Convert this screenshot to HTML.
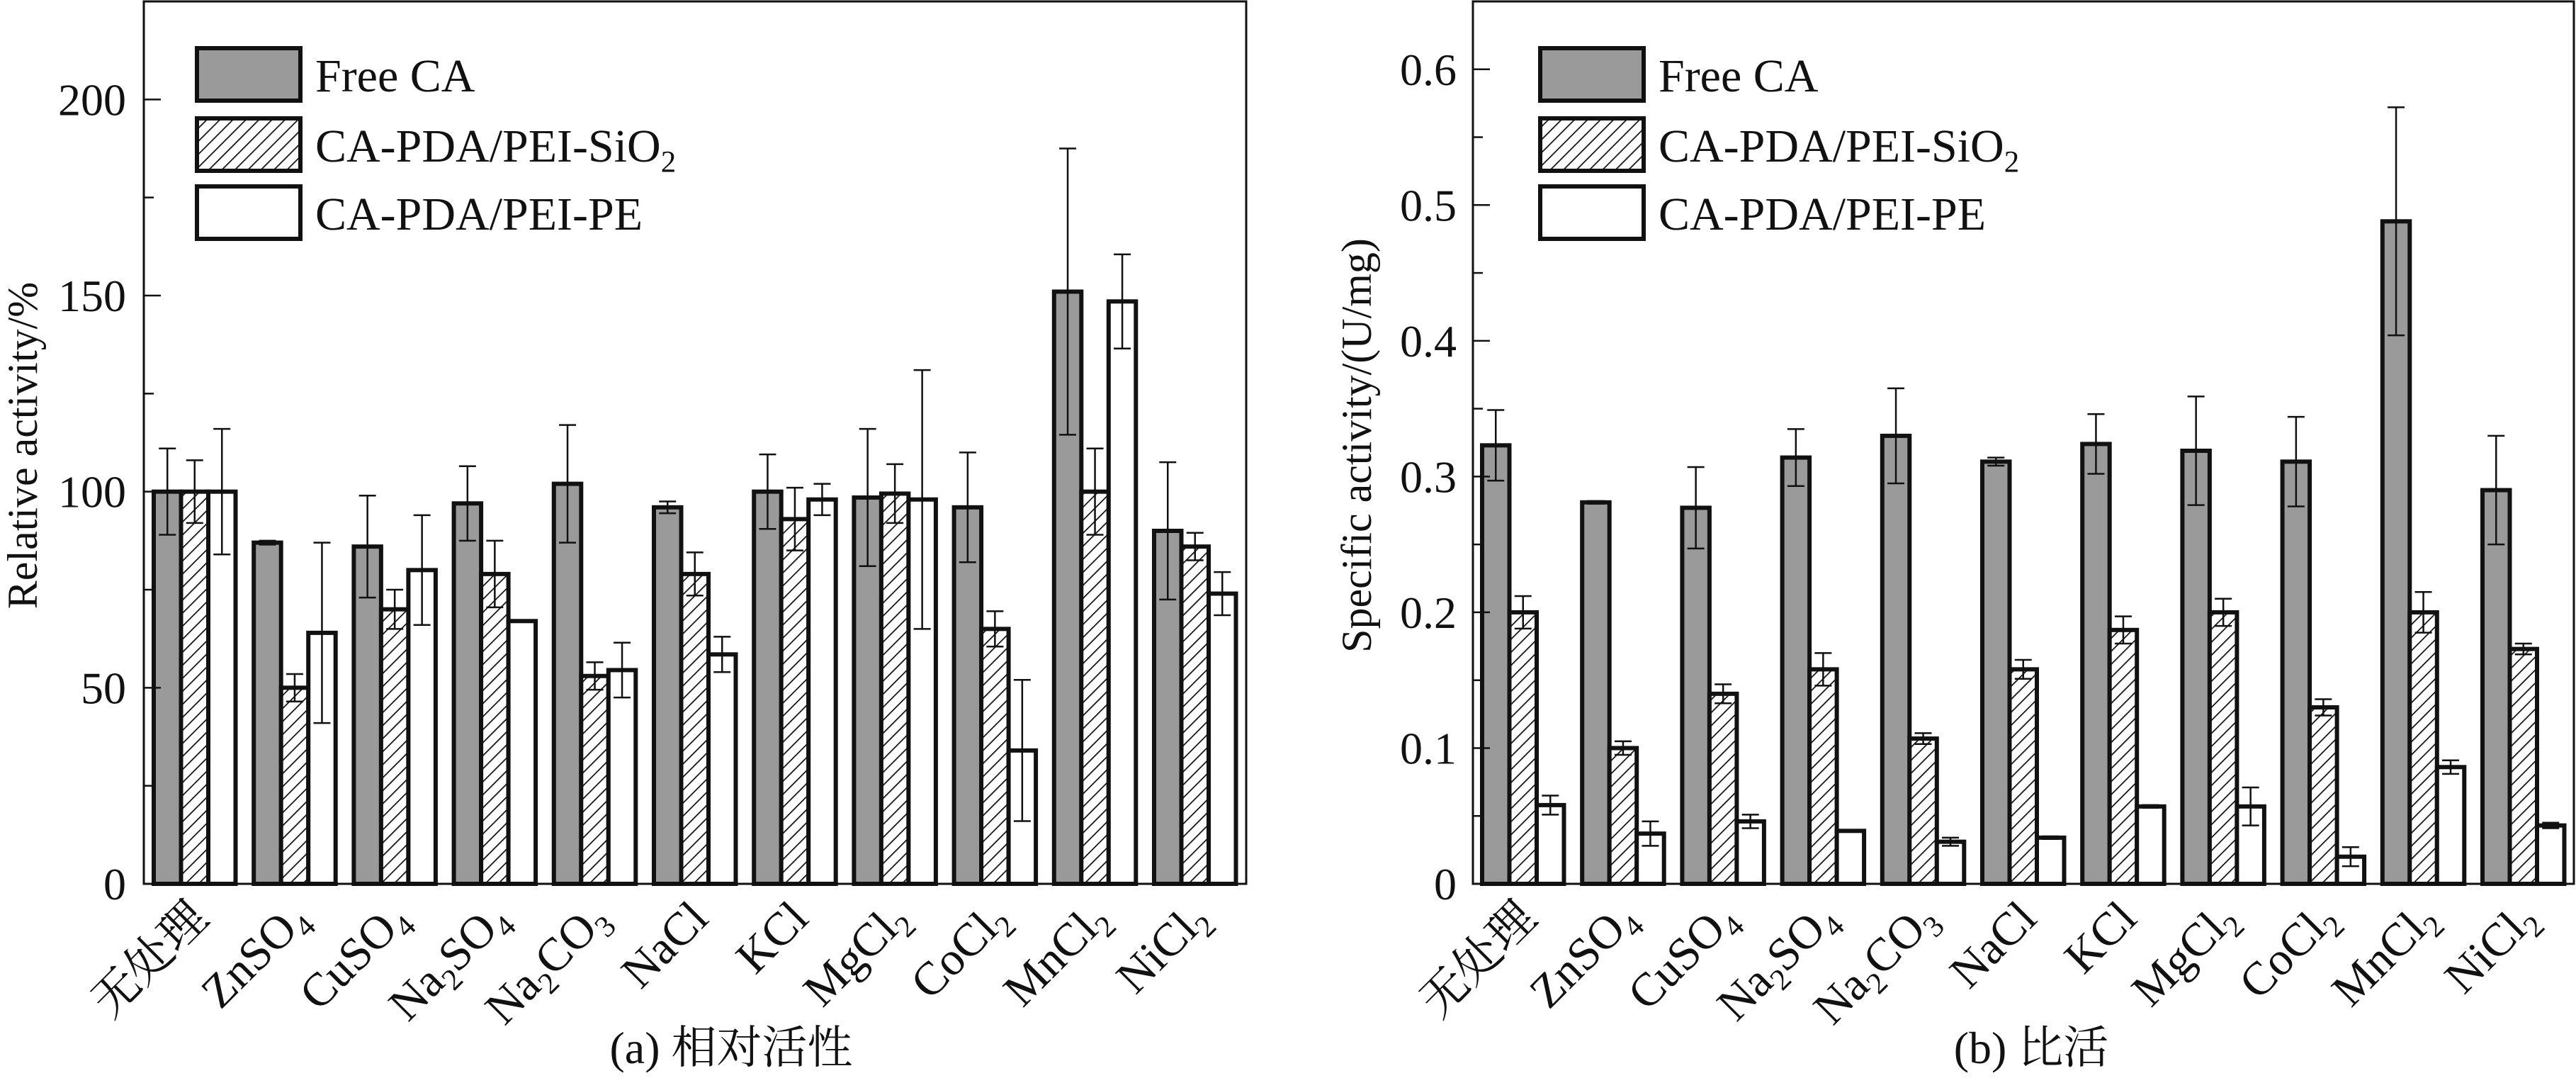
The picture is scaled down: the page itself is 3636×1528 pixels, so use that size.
<!DOCTYPE html>
<html><head><meta charset="utf-8"><style>
html,body{margin:0;padding:0;background:#fff;}
svg{display:block;font-family:"Liberation Serif","Noto Serif CJK SC","Noto Sans CJK SC",serif;}
</style></head><body>
<svg id="fig" width="3636" height="1528" viewBox="0 0 3636 1528" xmlns="http://www.w3.org/2000/svg">
<defs>
<pattern id="hatch" patternUnits="userSpaceOnUse" width="13" height="13" patternTransform="rotate(45)">
<rect width="13" height="13" fill="#fff"/><line x1="0" y1="0" x2="0" y2="13" stroke="#111" stroke-width="3.5"/>
</pattern>
</defs>
<g id="chartA"></g>
<g id="chartB"></g>
</svg>
<script>
const categories = ["无处理","ZnSO|4","CuSO|4","Na|2|SO|4","Na|2|CO|3","NaCl","KCl","MgCl|2","CoCl|2","MnCl|2","NiCl|2"];
const seriesNames = ["Free CA","CA-PDA/PEI-SiO|2","CA-PDA/PEI-PE"];
const relFree = [100,87,86,97,102,96,100,98.5,96,151,90];
const relFreeErr = [11,0.5,13,9.5,15,1.5,9.5,17.5,14,36.5,17.5];
const relSiO2 = [100,50,70,79,53,79,93,99.5,65,100,86];
const relSiO2Err = [8,3.5,5,8.5,3.5,5.5,8,7.5,4.5,11,3.5];
const relPE = [100,64,80,67,54.5,58.5,98,98,34,148.5,74];
const relPEErr = [16,23,14,0,7,4.5,4,33,18,12,5.5];
const relTicks = [0,50,100,150,200];
const spFree = [0.323,0.281,0.277,0.314,0.330,0.311,0.324,0.319,0.311,0.488,0.290];
const spFreeErr = [0.026,0.001,0.030,0.021,0.035,0.003,0.022,0.040,0.033,0.084,0.040];
const spSiO2 = [0.200,0.100,0.140,0.158,0.107,0.158,0.187,0.200,0.130,0.200,0.173];
const spSiO2Err = [0.012,0.005,0.007,0.012,0.004,0.007,0.010,0.010,0.006,0.015,0.004];
const spPE = [0.058,0.037,0.046,0.039,0.031,0.034,0.057,0.057,0.020,0.086,0.043];
const spPEErr = [0.007,0.009,0.005,0.000,0.003,0.001,0.001,0.014,0.007,0.005,0.002];
const spTicks = [0,0.1,0.2,0.3,0.4,0.5,0.6];
const spTickLabels = ["0","0.1","0.2","0.3","0.4","0.5","0.6"];

const NS="http://www.w3.org/2000/svg";
function mk(parent,tag,attrs){const e=document.createElementNS(NS,tag);for(const k in attrs)e.setAttribute(k,attrs[k]);parent.appendChild(e);return e;}
function richText(el,str,size){
  const parts=str.split("|");
  parts.forEach((p,i)=>{const t=document.createElementNS(NS,"tspan");
    if(i%2===1){t.setAttribute("font-size",size*0.65);t.setAttribute("dy",size*0.22);}
    else if(i>0){t.setAttribute("dy",-size*0.22);}
    t.textContent=p;el.appendChild(t);});
}
function drawChart(g,cfg){
  const {x0,x1,y0,y1,ymax,firstBar,ticks,tickLabels,minorStep,series,errs,title,caption,legendX,capX,titleX,labelRight}=cfg;
  const ys=v=>y0-(v/ymax)*(y0-y1);
  const step=141.2,bw=38.5;
  const fills=["#9a9a9a","url(#hatch)","#ffffff"];
  const sNames=["free-ca","sio2","pe"];
  series.forEach((arr,s)=>{arr.forEach((v,i)=>{
    const x=firstBar+step*i+bw*s;
    const r=mk(g,"rect",{x:x,y:ys(v),width:bw,height:y0-ys(v),fill:fills[s],stroke:"#111","stroke-width":6});
    
    
    const e=errs[s][i],cx=x+bw/2;
    const eg=mk(g,"g",{stroke:"#111","stroke-width":2.5});
    
    
    mk(eg,"line",{x1:cx,x2:cx,y1:ys(v+e),y2:ys(Math.max(0,v-e))});
    mk(eg,"line",{x1:cx-12,x2:cx+12,y1:ys(v+e),y2:ys(v+e)});
    mk(eg,"line",{x1:cx-12,x2:cx+12,y1:ys(Math.max(0,v-e)),y2:ys(Math.max(0,v-e))});
  });});
  const fr=mk(g,"rect",{x:x0,y:y1,width:x1-x0,height:y0-y1,fill:"none",stroke:"#111","stroke-width":3});
  
  
  for(let v=0;v<=ymax+1e-9;v+=minorStep){
    const major=ticks.some(t=>Math.abs(t-v)<1e-9);
    mk(g,"line",{x1:x0,x2:x0+(major?24:14),y1:ys(v),y2:ys(v),stroke:"#111","stroke-width":2.5});
  }
  ticks.forEach((t,i)=>{const tx=mk(g,"text",{x:labelRight,y:ys(t)+22,"text-anchor":"end","font-size":64,fill:"#111"});
    tx.textContent=tickLabels[i];
    
    });
  const yt=mk(g,"text",{x:0,y:0,"text-anchor":"middle","font-size":60,fill:"#111",transform:`translate(${titleX},${(y0+y1)/2+4}) rotate(-90)`});
  yt.textContent=title;
  
  
  categories.forEach((c,i)=>{
    const cx=firstBar+step*i+bw*1.5+22;
    const t=mk(g,"text",{x:0,y:0,"text-anchor":"end","font-size":66,fill:"#111",transform:`translate(${cx},${y0+52}) rotate(-45)`});
    richText(t,c,66);
    
    
  });
  const ly=[68,167,263];
  seriesNames.forEach((n,s)=>{
    const r=mk(g,"rect",{x:legendX,y:ly[s],width:146,height:74,fill:fills[s],stroke:"#111","stroke-width":6});
    
    
    const t=mk(g,"text",{x:legendX+167,y:ly[s]+61,"font-size":66,fill:"#111"});
    richText(t,n,66);
    
    
  });
  const cp=mk(g,"text",{x:capX,y:1500,"text-anchor":"middle","font-size":64,fill:"#111"});
  cp.textContent=caption;
  
  
}
drawChart(document.getElementById("chartA"),{x0:203,x1:1759,y0:1247,y1:2,ymax:225,firstBar:217,
  ticks:relTicks,tickLabels:relTicks.map(String),minorStep:25,
  series:[relFree,relSiO2,relPE],errs:[relFreeErr,relSiO2Err,relPEErr],
  title:"Relative activity/%",caption:"(a) 相对活性",legendX:278,capX:1032,titleX:52,labelRight:178});
drawChart(document.getElementById("chartB"),{x0:2079,x1:3633,y0:1247,y1:2,ymax:0.65,firstBar:2092,
  ticks:spTicks,tickLabels:spTickLabels,minorStep:0.05,
  series:[spFree,spSiO2,spPE],errs:[spFreeErr,spSiO2Err,spPEErr],
  title:"Specific activity/(U/mg)",caption:"(b) 比活",legendX:2174,capX:2867,titleX:1935,labelRight:2056});
</script>
</body></html>
